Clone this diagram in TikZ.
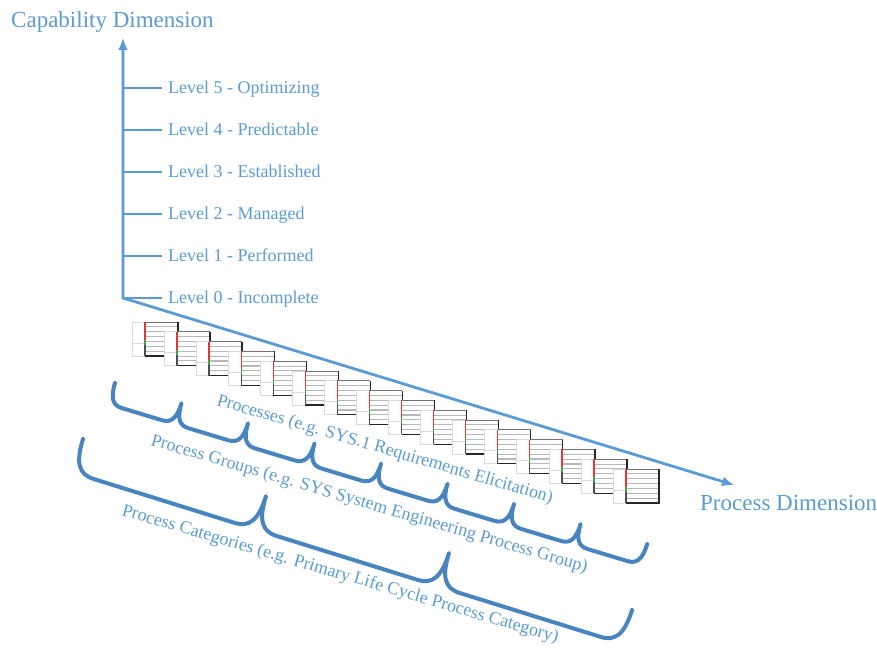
\documentclass[tikz,border=0pt]{standalone}
\usepackage{fontspec}
\setmainfont{Liberation Serif}
\usetikzlibrary{arrows.meta}

\definecolor{lblue}{RGB}{91,155,213}
\definecolor{bblue}{RGB}{72,132,192}
\definecolor{cellred}{RGB}{225,55,55}
\definecolor{cellgreen}{RGB}{50,175,60}
\definecolor{celldark}{RGB}{70,80,95}

% one small process table, top-left corner at #1
\newcommand\proctable[1]{%
  \begin{scope}[shift={#1}]
    \fill[white] (0,0) rectangle (46,34);
    \draw[cellline] (0,0) rectangle (13,34);
    \draw[cellline] (0,21) -- (13,21);
    \foreach \j in {1,...,6} \draw[rowline] (13,{\j*34/7}) -- (46,{\j*34/7});
    \draw[topline] (13,0) -- (46,0);
    \draw[frameline] (46,0) -- (46,34) -- (13,34);
    \draw[draw=cellred, line width=1.3pt] (13,0) -- (13,18);
    \draw[draw=cellgreen, line width=1.3pt] (13,18) -- (13,23);
    \draw[draw=celldark, line width=1.3pt] (13,23) -- (13,34);
  \end{scope}}

% chain of brace units: start, angle, count, unit length, depth, corner run
\newcommand\bracechain[6]{%
  \begin{scope}[shift={#1}, rotate=#2]
    \draw[bracestroke] (0,0)
      \foreach \k in {1,...,#3} {
        .. controls ({(\k-1)*#4}, {0.72*#5}) and ({(\k-1)*#4+0.3*#6}, #5) .. ({(\k-1)*#4+#6}, #5)
        -- ({\k*#4-#6}, #5)
        .. controls ({\k*#4-0.3*#6}, #5) and ({\k*#4}, {0.72*#5}) .. ({\k*#4}, 0)
      };
  \end{scope}}

\begin{document}
\begin{tikzpicture}[x=1pt, y=-1pt,
  axisline/.style={draw=lblue, line width=2.8pt},
  tickline/.style={draw=lblue, line width=1.8pt},
  lvl/.style={text=lblue, font=\fontsize{18}{20}\selectfont, inner sep=0pt, anchor=base west},
  dimlabel/.style={text=lblue, font=\fontsize{23}{26}\selectfont, inner sep=0pt, anchor=base west},
  slanted/.style={text=lblue, font=\fontsize{18}{20}\selectfont, inner sep=0pt, anchor=base west, rotate=-16.3},
  bracestroke/.style={draw=bblue, line width=4pt, line cap=round, line join=round},
  cellline/.style={draw=black!15, line width=0.8pt},
  rowline/.style={draw=black!28, line width=1.1pt},
  topline/.style={draw=black!55, line width=1pt},
  frameline/.style={draw=black!85, line width=1.3pt},
]
\useasboundingbox (0,0) rectangle (877,648);

% process tables stepping down along the process axis
\foreach \k in {0,...,15} {\proctable{({132+32.07*\k},{322+9.8*\k})}}

% axes
\coordinate (O) at (123,298);
\coordinate (ytip) at (123,38);
\coordinate (xtip) at (734,485);
\draw[axisline, {Latex[length=12pt,width=10pt]}-{Latex[length=12pt,width=10pt]}]
  (ytip) -- (O) -- (xtip);

\node[dimlabel] (capdim) at (11,27) {Capability Dimension};
\node[dimlabel] (procdim) at (700,510) {Process Dimension};

% capability levels
\foreach \i/\name in {0/Incomplete,1/Performed,2/Managed,3/Established,4/Predictable,5/Optimizing} {
  \coordinate (t\i) at (123,{298-42*\i});
  \coordinate (te\i) at (162,{298-42*\i});
  \draw[tickline] (t\i) -- (te\i);
  \node[lvl] (lvl\i) at (168,{303.5-42*\i}) {Level \i\ - \name};
}

% braces grouping the processes
\bracechain{(115,383)}{-16.84}{8}{69.5}{22}{14}
\bracechain{(83,439)}{-17.3}{3}{191.7}{35}{22}

% slanted labels
\node[slanted] (procs) at (216,405) {Processes (e.g. SYS.1 Requirements Elicitation)};
\node[slanted] (groups) at (150,445) {Process Groups (e.g. SYS System Engineering Process Group)};
\node[slanted] (cats) at (121,515) {Process Categories (e.g. Primary Life Cycle Process Category)};
\end{tikzpicture}
\end{document}
